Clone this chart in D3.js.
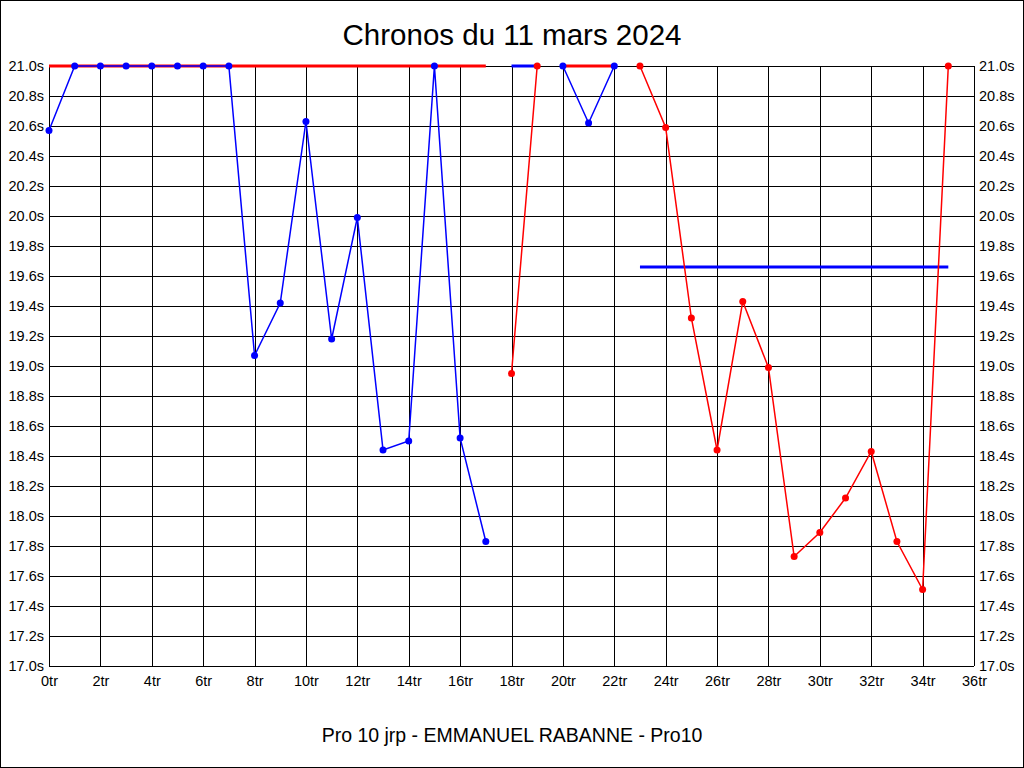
<!DOCTYPE html>
<html>
<head>
<meta charset="utf-8">
<script src="https://cdn.jsdelivr.net/npm/d3@7"></script>
<style>
  html, body { margin: 0; padding: 0; background: #fff; }
  svg { display: block; }
</style>
</head>
<body>
<svg id="chart" width="1024" height="768"></svg>
<script>
// ---- Data ----
const titleText = "Chronos du 11 mars 2024";
const subtitleText = "Pro 10 jrp - EMMANUEL RABANNE - Pro10";
const laps = [0,1,2,3,4,5,6,7,8,9,10,11,12,13,14,15,16,17,18,19,20,21,22,23,24,25,26,27,28,29,30,31,32,33,34,35];
const blueTimes = [20.57, 21.0, 21.0, 21.0, 21.0, 21.0, 21.0, 21.0, 19.07, 19.42,
                   20.63, 19.18, 19.99, 18.44, 18.50, 21.0, 18.52, 17.83, null, null,
                   21.0, 20.62, 21.0, null, null, null, null, null, null, null,
                   null, null, null, null, null, null];
const redTimes  = [null, null, null, null, null, null, null, null, null, null,
                   null, null, null, null, null, null, null, null, 18.95, 21.0,
                   null, null, null, 21.0, 20.59, 19.32, 18.44, 19.43, 18.99, 17.73,
                   17.89, 18.12, 18.43, 17.83, 17.51, 21.0];
const capValue = 21.0;
const redCapRanges = [[0, 17], [20, 22]];
const blueCapRanges = [[18, 19]];
const blueAvgRange = [23, 35];
const blueAvgValue = 19.66;
const xTickValues = [0,2,4,6,8,10,12,14,16,18,20,22,24,26,28,30,32,34,36];
const yTickValues = [17.0,17.2,17.4,17.6,17.8,18.0,18.2,18.4,18.6,18.8,19.0,19.2,19.4,19.6,19.8,20.0,20.2,20.4,20.6,20.8,21.0];

// ---- Layout ----
const W = 1024, H = 768;
const plot = { left: 49, right: 974, top: 66, bottom: 666 };
const BLUE = "#0000ff", RED = "#ff0000";
const svg = d3.select("#chart");
const fontFam = "'Liberation Sans', Arial, sans-serif";
const tickFont = "14.5px";

svg.append("rect").attr("x", 0).attr("y", 0).attr("width", W).attr("height", H).attr("fill", "#fff");
svg.append("rect").attr("x", 0.5).attr("y", 0.5).attr("width", W - 1).attr("height", H - 1)
  .attr("fill", "none").attr("stroke", "#000").attr("stroke-width", 1);

const x = d3.scaleLinear().domain([0, 36]).range([plot.left, plot.right]);
const y = d3.scaleLinear().domain([17, 21]).range([plot.bottom, plot.top]);

// grid + bottom axis
const gx = svg.append("g").attr("transform", `translate(0,${plot.bottom})`)
  .call(d3.axisBottom(x).tickValues(xTickValues).tickSize(-(plot.bottom - plot.top)).tickPadding(10)
    .tickFormat(d => d + "tr"));
gx.select(".domain").remove();
gx.selectAll(".tick line").attr("stroke", "#000").attr("shape-rendering", "crispEdges");
gx.selectAll(".tick text").attr("fill", "#000").style("font-family", fontFam).style("font-size", tickFont)
  .attr("dy", "0.71em");

// grid + left axis
const gyl = svg.append("g").attr("transform", `translate(${plot.left},0)`)
  .call(d3.axisLeft(y).tickValues(yTickValues).tickSize(-(plot.right - plot.left)).tickPadding(5)
    .tickFormat(d => d3.format(".1f")(d) + "s"));
gyl.select(".domain").remove();
gyl.selectAll(".tick line").attr("stroke", "#000").attr("shape-rendering", "crispEdges");
gyl.selectAll(".tick text").attr("fill", "#000").style("font-family", fontFam).style("font-size", tickFont);

// right axis labels
const gyr = svg.append("g").attr("transform", `translate(${plot.right},0)`)
  .call(d3.axisRight(y).tickValues(yTickValues).tickSize(0).tickPadding(5)
    .tickFormat(d => d3.format(".1f")(d) + "s"));
gyr.select(".domain").remove();
gyr.selectAll(".tick text").attr("fill", "#000").style("font-family", fontFam).style("font-size", tickFont);

// thick reference / cap lines
function hLine(range, value, color) {
  svg.append("line")
    .attr("x1", x(range[0])).attr("x2", x(range[1]))
    .attr("y1", y(value)).attr("y2", y(value))
    .attr("stroke", color).attr("stroke-width", 3);
}
redCapRanges.forEach(r => hLine(r, capValue, RED));
blueCapRanges.forEach(r => hLine(r, capValue, BLUE));
hLine(blueAvgRange, blueAvgValue, BLUE);

// series
function drawSeries(values, color) {
  const pts = laps.map((l, i) => ({ lap: l, v: values[i] }));
  const line = d3.line().defined(d => d.v != null).x(d => x(d.lap)).y(d => y(d.v));
  svg.append("path").datum(pts).attr("d", line)
    .attr("fill", "none").attr("stroke", color).attr("stroke-width", 1.5);
  svg.append("g").selectAll("circle").data(pts.filter(d => d.v != null)).join("circle")
    .attr("cx", d => x(d.lap)).attr("cy", d => y(d.v)).attr("r", 3.5).attr("fill", color);
}
drawSeries(blueTimes, BLUE);
drawSeries(redTimes, RED);

// titles
svg.append("text").attr("x", 512).attr("y", 45).attr("text-anchor", "middle")
  .style("font-family", fontFam).style("font-size", "29.5px").attr("fill", "#000").text(titleText);
svg.append("text").attr("x", 512).attr("y", 742).attr("text-anchor", "middle")
  .style("font-family", fontFam).style("font-size", "19.5px").attr("fill", "#000").text(subtitleText);
</script>
</body>
</html>
